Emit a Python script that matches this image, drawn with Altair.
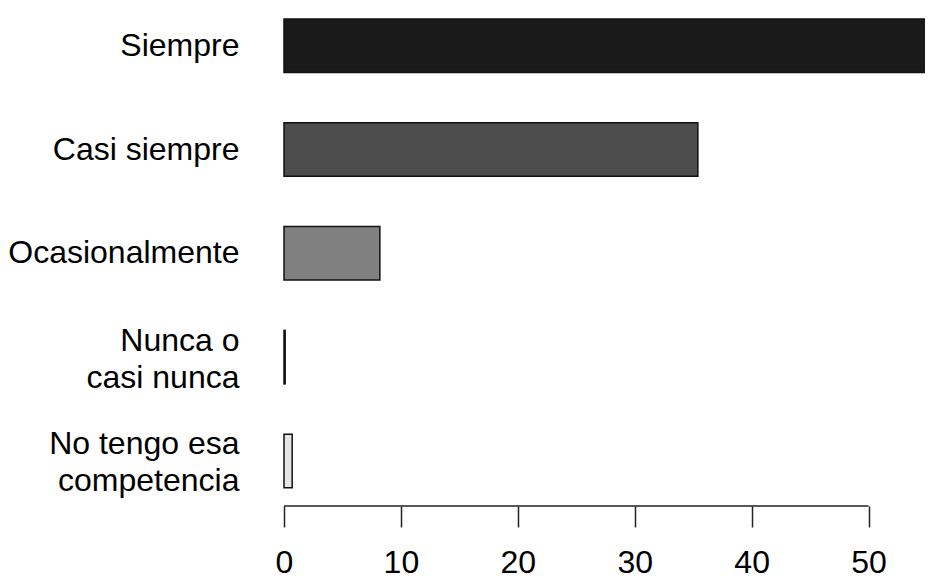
import altair as alt
import pandas as pd

categories = ["Siempre", "Casi siempre", "Ocasionalmente", "Nunca o\ncasi nunca", "No tengo esa\ncompetencia"]
values = [55.6, 35.4, 8.2, 0.1, 0.7]
fills = ["#1a1a1a", "#4d4d4d", "#808080", "#b3b3b3", "#e6e6e6"]
ticks = [0, 10, 20, 30, 40, 50]

df = pd.DataFrame({"cat": categories, "val": values, "fill": fills})
axis_df = pd.DataFrame({"a": [ticks[0]], "b": [ticks[-1]]})

H = 498
W = 641
FONT = "Liberation Sans"

xscale = alt.Scale(domain=[0, 54.83], nice=False, zero=True)
xaxis = alt.Axis(title=None, domain=False, grid=False, values=ticks,
                 tickSize=21, tickColor="#222222", tickWidth=1.5,
                 labelFont=FONT, labelFontSize=32, labelColor="#000000",
                 labelBaseline="alphabetic", labelPadding=45,
                 labelFlush=False, labelOverlap=False)

yaxis = alt.Axis(title=None, domain=False, ticks=False, grid=False, labelPadding=45,
                 labelFont=FONT, labelFontSize=32, labelColor="#000000",
                 labelLimit=400, labelLineHeight=37, labelAlign="right",
                 labelBaseline="middle",
                 labelOffset={"condition": {"test": "indexof(datum.value, '\\n') >= 0", "value": -16.5},
                              "value": 0},
                 labelExpr="split(datum.label, '\\n')")

bars = alt.Chart(df).mark_bar(stroke="#111111", strokeWidth=1.5).encode(
    y=alt.Y("cat:N", sort=categories,
            scale=alt.Scale(paddingInner=0.485, paddingOuter=0.141, align=0.375),
            axis=yaxis),
    x=alt.X("val:Q", scale=xscale, axis=xaxis),
    fill=alt.Fill("fill:N", scale=None),
)

axis_line = alt.Chart(axis_df).mark_rule(color="#222222", strokeWidth=1.5).encode(
    x=alt.X("a:Q", scale=xscale, axis=xaxis),
    x2="b:Q",
    y=alt.value(H),
)

chart = alt.layer(bars, axis_line).properties(
    width=W, height=H,
    background="#ffffff",
    autosize=alt.AutoSizeParams(type="none"),
    padding={"left": 276, "top": 0, "right": 0, "bottom": 67},
).configure_view(stroke="transparent", strokeWidth=0)

chart.save("out.html", embed_options={"renderer": "svg", "actions": False})
